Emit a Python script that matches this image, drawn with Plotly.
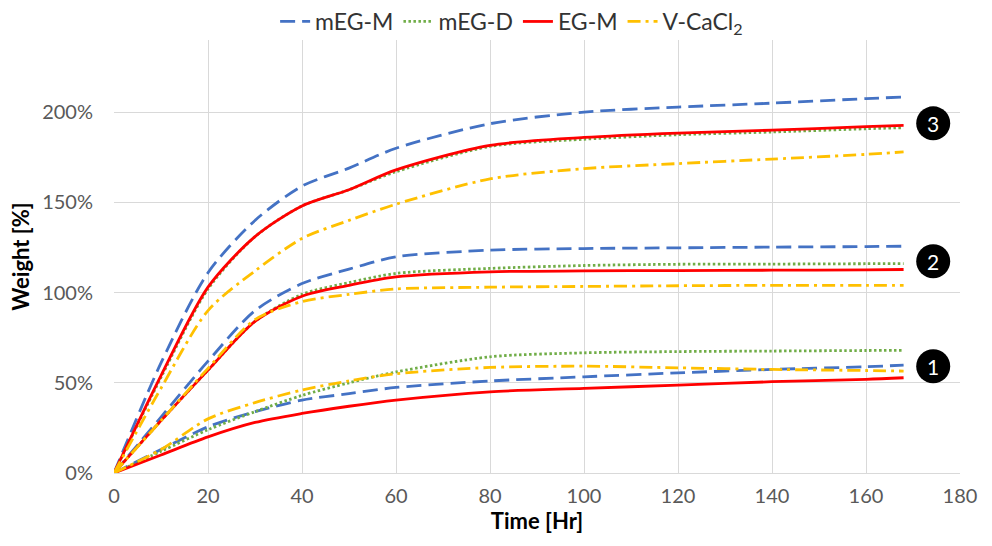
import plotly.graph_objects as go

# Sampling times (hours)
time_hr = [0, 10, 20, 30, 40, 50, 60, 80, 100, 120, 140, 160, 168]

# Weight gain (%) per material, three conditions each (labelled 1, 2, 3)
meg_m_1 = [0, 13, 25.6, 34, 40.4, 44, 47.4, 51, 53.3, 55.5, 57.4, 58.9, 59.8]
meg_m_2 = [0, 31, 62, 90, 105, 113, 119.8, 123.5, 124.4, 124.8, 125.2, 125.5, 125.7]
meg_m_3 = [0, 61, 111, 140, 159, 169, 180, 193.6, 200, 202.8, 205, 207.5, 208.4]

meg_d_1 = [0, 12, 24, 34, 43, 50, 56, 64.4, 66.6, 67.3, 67.6, 67.9, 68]
meg_d_2 = [0, 29, 57, 84, 99, 105.5, 110.6, 113.4, 115, 115.7, 115.8, 116, 116]
meg_d_3 = [0, 53, 102, 131, 148, 157, 167, 181, 185, 187.5, 189, 190.8, 191.4]

eg_m_1 = [0, 10, 20, 28, 33, 37, 40.4, 45, 46.9, 48.7, 50.6, 51.9, 52.8]
eg_m_2 = [0, 29, 57, 84, 98, 104, 108.7, 111.5, 112, 112.2, 112.4, 112.6, 112.8]
eg_m_3 = [0, 54, 103, 131, 148, 157, 168, 181.6, 186, 188.4, 190, 192, 192.7]

v_cacl2_1 = [0, 13, 30, 39, 46, 51, 55, 58.5, 59.2, 58.3, 57.4, 56.8, 56.5]
v_cacl2_2 = [0, 29, 58, 85, 95, 99, 102, 103, 103.4, 103.8, 104, 104, 104]
v_cacl2_3 = [0, 47, 90, 112, 130, 140, 149, 163, 168.7, 171.5, 174, 176.6, 178]

series = [
    ("mEG-M", [meg_m_1, meg_m_2, meg_m_3], "#4472C4", "15px,7px"),
    ("mEG-D", [meg_d_1, meg_d_2, meg_d_3], "#70AD47", "2.5px,2.5px"),
    ("EG-M", [eg_m_1, eg_m_2, eg_m_3], "#FF0000", "solid"),
    ("V-CaCl<sub>2</sub>", [v_cacl2_1, v_cacl2_2, v_cacl2_3], "#FFC000", "13px,5px,3px,5px"),
]

# Condition markers at the right end of each curve group
condition_labels = ["1", "2", "3"]
condition_pos = [(174.3, 59.2), (174.3, 117.4), (174.3, 193.8)]

FONT = "Lato"
TICK_COLOR = "#595959"
GRID = "#D9D9D9"

fig = go.Figure()
for name, curves, color, dash in series:
    for i, ys in enumerate(curves):
        fig.add_trace(go.Scatter(
            x=time_hr, y=ys, mode="lines", name=name,
            legendgroup=name, showlegend=(i == 0),
            line=dict(color=color, width=2.8, dash=dash, shape="spline", smoothing=0.8),
        ))

shapes = []
annotations = []
for label, (cx, cy) in zip(condition_labels, condition_pos):
    shapes.append(dict(
        type="circle", xref="x", yref="y", xsizemode="pixel", ysizemode="pixel",
        xanchor=cx, yanchor=cy, x0=-17, x1=17, y0=-17, y1=17,
        fillcolor="black", line=dict(color="black", width=0),
    ))
    annotations.append(dict(
        x=cx, y=cy, xref="x", yref="y", text=label, showarrow=False,
        font=dict(family=FONT, size=21, color="white"),
    ))

fig.update_layout(
    width=992, height=546,
    margin=dict(l=114, r=32, t=40, b=73, autoexpand=False),
    paper_bgcolor="white", plot_bgcolor="white",
    font=dict(family=FONT, color=TICK_COLOR),
    showlegend=True,
    legend=dict(
        orientation="h", x=0.47, xanchor="center", xref="paper",
        y=1.0, yanchor="top", yref="container",
        font=dict(family=FONT, size=23, color="#333333"),
        itemwidth=30, tracegroupgap=0,
        bgcolor="rgba(0,0,0,0)",
    ),
    shapes=shapes,
    annotations=annotations,
    xaxis=dict(
        range=[0, 180], dtick=20, tick0=0,
        showgrid=True, gridcolor=GRID, gridwidth=1,
        zeroline=False, showline=True, linecolor=GRID, linewidth=1,
        ticks="", tickfont=dict(family=FONT, size=20, color=TICK_COLOR),
        ticklabelstandoff=5,
        title=dict(text="<b>Time [Hr]</b>", font=dict(family=FONT, size=22, color="black"), standoff=4),
    ),
    yaxis=dict(
        range=[0, 240], dtick=50, tick0=0, ticksuffix="%",
        showgrid=True, gridcolor=GRID, gridwidth=1,
        zeroline=False, showline=False,
        ticks="", tickfont=dict(family=FONT, size=20, color=TICK_COLOR),
        ticklabelstandoff=20,
        title=dict(text="<b>Weight [%]</b>", font=dict(family=FONT, size=22, color="black"), standoff=6),
    ),
)

fig.write_html("out.html")
